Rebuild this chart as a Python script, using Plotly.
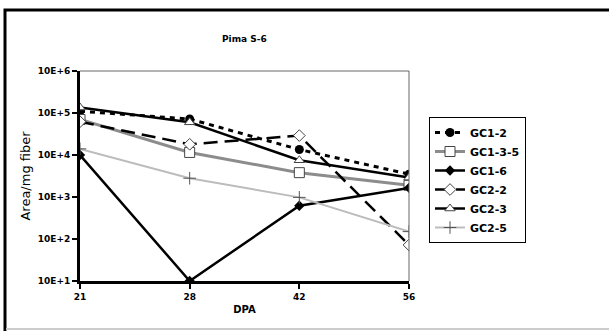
import plotly.graph_objects as go

dpa = ["21", "28", "42", "56"]
gc1_2 = [1.1e5, 7.2e4, 1.35e4, 3.5e3]
gc1_3_5 = [7.0e4, 1.15e4, 3.8e3, 1.9e3]
gc1_6 = [1.0e4, 10, 620, 1.65e3]
gc2_2 = [6.2e4, 1.8e4, 2.9e4, 72]
gc2_3 = [1.35e5, 6.0e4, 7.5e3, 2.9e3]
gc2_5 = [1.4e4, 2.8e3, 980, 150]
ytick_vals = [1e1, 1e2, 1e3, 1e4, 1e5, 1e6]
ytick_text = ["<b>10E+1</b>", "<b>10E+2</b>", "<b>10E+3</b>", "<b>10E+4</b>", "<b>10E+5</b>", "<b>10E+6</b>"]
xtick_text = ["<b>21</b>", "<b>28</b>", "<b>42</b>", "<b>56</b>"]
legend_names = ["<b>GC1-2</b>", "<b>GC1-3-5</b>", "<b>GC1-6</b>", "<b>GC2-2</b>", "<b>GC2-3</b>", "<b>GC2-5</b>"]

FONT = "DejaVu Sans"
fig = go.Figure()

fig.add_trace(go.Scatter(x=dpa, y=gc1_2, name=legend_names[0], mode="lines+markers",
    line=dict(color="black", width=3, dash="5px,5px"),
    marker=dict(symbol="circle", size=9, color="black")))
fig.add_trace(go.Scatter(x=dpa, y=gc1_3_5, name=legend_names[1], mode="lines+markers",
    line=dict(color="#8c8c8c", width=3),
    marker=dict(symbol="square", size=10, color="white", line=dict(color="#444", width=1))))
fig.add_trace(go.Scatter(x=dpa, y=gc1_6, name=legend_names[2], mode="lines+markers",
    line=dict(color="black", width=2.5),
    marker=dict(symbol="diamond", size=8, color="black")))
fig.add_trace(go.Scatter(x=dpa, y=gc2_2, name=legend_names[3], mode="lines+markers",
    line=dict(color="black", width=2.5, dash="14px,7px"),
    marker=dict(symbol="diamond", size=9, color="white", line=dict(color="#444", width=1))))
fig.add_trace(go.Scatter(x=dpa, y=gc2_3, name=legend_names[4], mode="lines+markers",
    line=dict(color="black", width=2.5),
    marker=dict(symbol="triangle-up", size=9, color="white", line=dict(color="#444", width=1))))
fig.add_trace(go.Scatter(x=dpa, y=gc2_5, name=legend_names[5], mode="lines+markers",
    line=dict(color="#bcbcbc", width=2),
    marker=dict(symbol="cross-thin", size=9, color="#555", line=dict(color="#555", width=1))))

L, R, T, B = 80, 200, 71, 50
W, H = 609, 331
pw, ph = W - L - R, H - T - B

def px(x):
    return (x - L) / pw

def py(y):
    return (H - B - y) / ph

fig.update_layout(
    width=W, height=H, margin=dict(l=L, r=R, t=T, b=B),
    paper_bgcolor="white", plot_bgcolor="white",
    font=dict(family=FONT, size=10, color="black"),
    showlegend=True,
    legend=dict(x=px(429), y=py(117), xanchor="left", yanchor="top",
                bordercolor="black", borderwidth=1, bgcolor="white",
                font=dict(size=11, family=FONT), itemwidth=30, tracegroupgap=0),
    xaxis=dict(type="category", range=[0, 3], showgrid=False, zeroline=False,
               showline=True, linecolor="black", linewidth=3,
               tickvals=dpa, ticktext=xtick_text,
               ticks="outside", ticklen=5, tickwidth=2, tickcolor="black",
               tickfont=dict(size=9, family=FONT),
               title=dict(text="<b>DPA</b>", font=dict(size=10, family=FONT), standoff=6)),
    yaxis=dict(type="log", range=[1, 6], showgrid=False, zeroline=False,
               showline=True, linecolor="black", linewidth=3,
               tickvals=ytick_vals, ticktext=ytick_text,
               ticks="outside", ticklen=5, tickwidth=2, tickcolor="black",
               tickfont=dict(size=9, family=FONT),
               title=dict(text="Area/mg fiber", font=dict(size=13, family=FONT), standoff=5)),
    annotations=[
        dict(text="<b>Pima S-6</b>", xref="paper", yref="paper", x=px(244), y=py(39),
             xanchor="center", yanchor="middle",
             showarrow=False, font=dict(size=9, family=FONT)),
    ],
    shapes=[
        dict(type="path", xref="paper", yref="paper",
             path="M 0,1 L 1,1 L 1,0", line=dict(color="#666", width=1)),
        dict(type="rect", xref="paper", yref="paper",
             x0=px(5), x1=px(620), y0=py(340), y1=py(10),
             line=dict(color="black", width=3)),
        dict(type="line", xref="paper", yref="paper",
             x0=px(6), x1=px(609), y0=py(329), y1=py(329),
             line=dict(color="#cccccc", width=2)),
    ],
)

fig.write_html("out.html", config={"displayModeBar": False},
               post_script="document.body.style.margin='0';")
